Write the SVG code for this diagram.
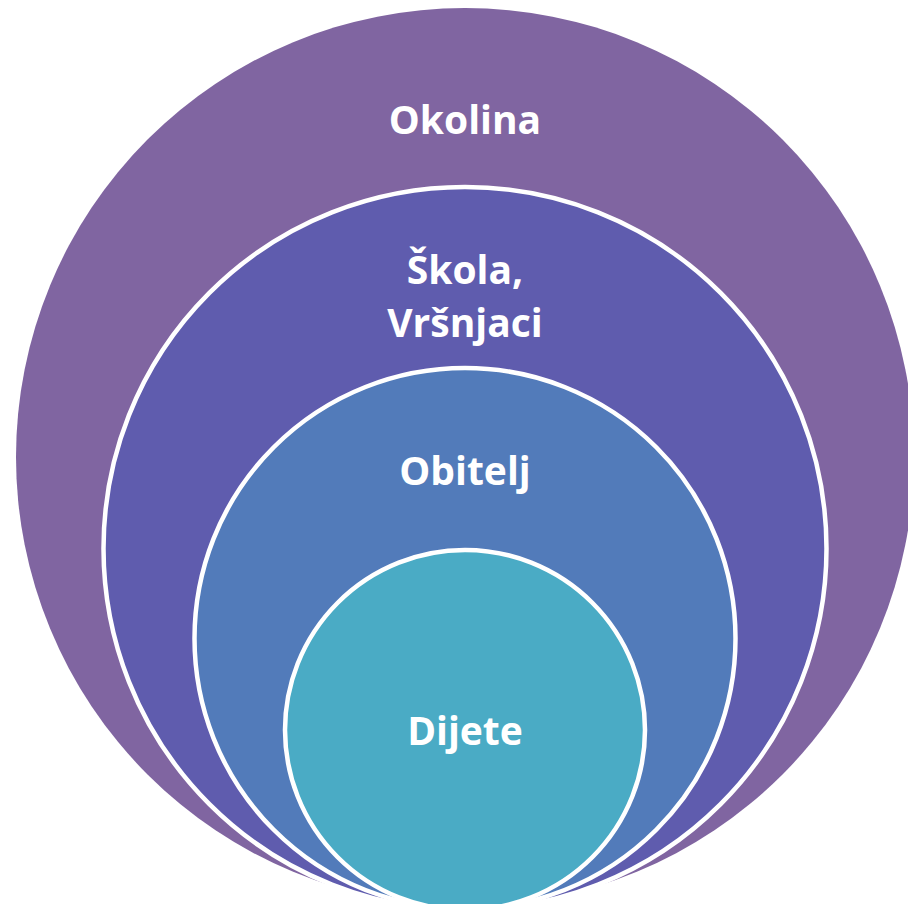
<svg xmlns="http://www.w3.org/2000/svg" width="908" height="904" viewBox="0 0 908 904">
<style>
.ring{stroke:#ffffff;stroke-width:4.5}
.lbl{font-family:"Open Sans","Liberation Sans",sans-serif;font-weight:bold;font-size:39px;fill:#ffffff;text-anchor:middle}
</style>
<rect width="908" height="904" fill="#ffffff"/>
<g id="okolina">
<circle cx="465" cy="457" r="449" fill="#8065A1"/>
<text class="lbl" x="465" y="134">Okolina</text>
</g>
<g id="skola">
<circle class="ring" cx="465" cy="548.5" r="361.5" fill="#5F5CAE"/>
<text class="lbl" x="465" y="284">Škola,</text>
<text class="lbl" x="465" y="337">Vršnjaci</text>
</g>
<g id="obitelj">
<circle class="ring" cx="465" cy="638.5" r="270.5" fill="#527BBA"/>
<text class="lbl" x="465" y="485">Obitelj</text>
</g>
<g id="dijete">
<circle class="ring" cx="465" cy="730" r="180" fill="#4AABC5"/>
<text class="lbl" x="465" y="745">Dijete</text>
</g>
<g id="connectors"/>
</svg>
